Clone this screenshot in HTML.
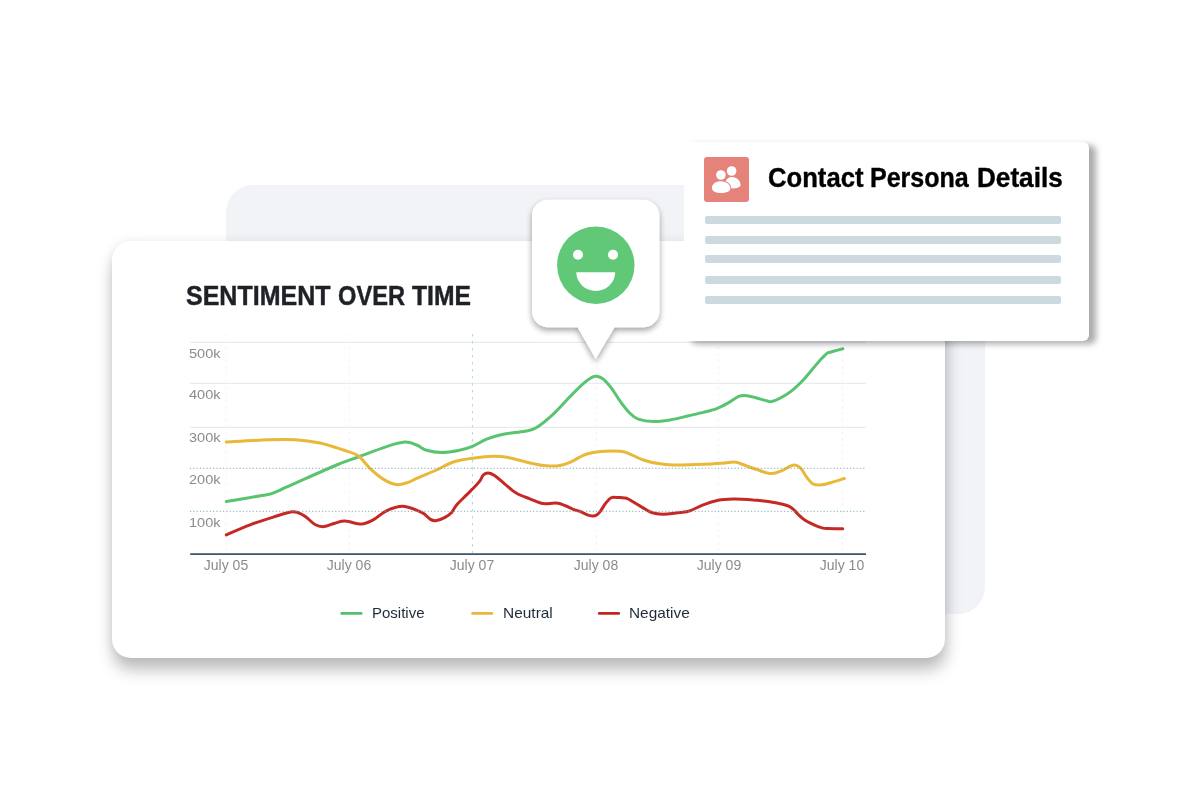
<!DOCTYPE html>
<html><head><meta charset="utf-8">
<style>
html,body{margin:0;padding:0;background:#fff;}
body{width:1201px;height:800px;position:relative;overflow:hidden;font-family:"Liberation Sans",sans-serif;}
.abs{position:absolute;}
.yl,.xl,.lg,#title,#ctitle{will-change:transform;}
#back{left:226.3px;top:185.3px;width:759.2px;height:428.3px;border-radius:27px;background:#f1f3f6;}
#card{left:112px;top:241px;width:833px;height:417px;border-radius:19px;background:#fff;box-shadow:1px 12px 16px rgba(0,0,0,.255),0 0 12px rgba(0,0,0,.065);}
#title{-webkit-text-stroke:.45px #1e2126;left:0px;top:279.6px;font-weight:bold;font-size:27px;line-height:32px;color:#1e2126;white-space:nowrap;transform-origin:0 0;}
.yl{left:188.7px;width:34px;font-size:13.5px;line-height:14px;color:#8b8b8b;white-space:nowrap;transform-origin:0 0;transform:scaleX(1.075);margin-top:.85px}
.xl{width:80px;text-align:center;font-size:14px;line-height:14px;color:#8b8b8b;top:558px;white-space:nowrap;}
.lg{font-size:15px;line-height:16px;color:#1f2b38;top:605px;white-space:nowrap;}
#contact{left:684px;top:142px;width:405px;height:199.3px;border-radius:6px;background:#fff;box-shadow:7px 3px 6px rgba(0,0,0,.33);}
#ctitle{-webkit-text-stroke:.4px #000;left:0px;top:160.9px;font-weight:bold;font-size:27px;line-height:34px;color:#000;white-space:nowrap;transform-origin:0 0;}
.bar{left:704.9px;width:356.5px;height:8px;border-radius:2px;background:#ccdae0;}
#title span{position:absolute;top:0;transform-origin:0 0;display:block}
#w1{left:186.4px;transform:scaleX(.926)}#w2{left:338.25px;transform:scaleX(.876)}#w3{left:411.9px;transform:scaleX(.914)}
#ctitle span{position:absolute;top:0;transform-origin:0 0;display:block}
#c1{left:768.25px;transform:scaleX(.95)}#c2{left:870.4px;transform:scaleX(.927)}#c3{left:977.15px;transform:scaleX(.9677)}
#icon{left:704px;top:157px;width:45px;height:45px;border-radius:3px;background:#e5827a;}
</style></head><body>
<div id="back" class="abs"></div>
<div id="card" class="abs"></div>
<div id="title" class="abs"><span id="w1">SENTIMENT</span><span id="w2">OVER</span><span id="w3">TIME</span></div>

<svg class="abs" style="left:0;top:0" width="1201" height="800" viewBox="0 0 1201 800">
 <g stroke="#dfe9ec" stroke-width="1" fill="none">
  <path d="M190 342.3H866M190 383.3H866M190 427.3H866"/>
 </g>
 <g stroke="#eff2f5" stroke-width="1" stroke-dasharray="2.5 4" fill="none">
  <path d="M226.2 334V553M349.3 334V553M596.4 334V553M718.6 334V553M842.5 334V553"/>
 </g>
 <path d="M472.4 334V553" stroke="#b5d3d6" stroke-width="1" stroke-dasharray="2.5 4.5" fill="none"/>
 <path d="M190.2 554.1H866" stroke="#3d5566" stroke-width="1.7" fill="none"/>
 <g fill="none" stroke-width="3" stroke-linecap="round" stroke-linejoin="round">
  <path stroke="#58c470" d="M226.3 501.6C232.2 500.6 254.4 496.8 262.0 495.5C269.6 494.2 268.4 494.6 271.6 493.6C274.8 492.6 277.1 491.3 281.0 489.6C284.9 487.9 285.7 487.4 295.0 483.3C304.3 479.2 326.1 469.4 336.6 465.0C347.1 460.6 349.9 460.1 358.2 457.0C366.5 453.9 378.7 449.1 386.5 446.6C394.3 444.1 399.8 442.4 404.8 442.1C409.8 441.8 413.1 443.6 416.7 445.0C420.3 446.4 422.5 449.1 426.6 450.3C430.8 451.6 436.3 452.5 441.6 452.5C446.9 452.5 453.2 451.5 458.3 450.5C463.4 449.5 467.7 448.2 472.4 446.3C477.1 444.4 481.5 441.2 486.6 439.2C491.7 437.2 496.8 435.5 503.2 434.2C509.6 432.9 519.3 432.3 524.9 431.2C530.5 430.1 531.9 430.4 536.6 427.5C541.3 424.6 547.7 419.2 553.3 414.1C558.9 409.0 565.0 401.7 570.0 396.6C575.0 391.5 579.7 386.8 583.3 383.6C586.9 380.4 589.4 378.7 591.6 377.5C593.8 376.3 594.7 376.0 596.6 376.3C598.5 376.6 600.8 377.1 603.3 379.1C605.8 381.1 608.8 384.7 611.6 388.3C614.4 391.9 616.9 396.6 619.9 400.8C622.9 405.0 626.8 410.2 629.9 413.3C633.0 416.4 634.3 417.7 638.2 419.1C642.1 420.5 647.9 421.5 653.2 421.6C658.5 421.7 664.4 420.8 669.9 419.9C675.4 419.0 681.0 417.6 686.5 416.3C692.0 415.1 698.2 413.7 703.2 412.4C708.2 411.1 712.5 410.2 716.7 408.6C720.9 407.0 724.7 404.9 728.3 402.9C731.9 400.9 735.5 397.8 738.3 396.6C741.1 395.4 742.2 395.4 745.0 395.5C747.8 395.6 751.4 396.6 755.0 397.5C758.6 398.4 763.8 400.1 766.6 400.8C769.4 401.5 769.4 402.0 771.6 401.6C773.8 401.2 776.6 400.1 779.9 398.3C783.2 396.5 787.7 393.9 791.6 390.8C795.5 387.8 799.6 383.8 803.2 380.0C806.8 376.2 810.4 371.6 813.2 368.3C816.0 365.0 818.1 362.4 820.0 360.3C821.9 358.2 823.5 356.7 824.6 355.6C825.7 354.5 826.2 354.1 826.8 353.6C827.4 353.1 827.7 352.9 828.2 352.7C828.7 352.5 828.5 352.6 829.8 352.3C831.1 352.0 833.8 351.2 836.0 350.6C838.2 350.0 841.7 349.1 842.8 348.8"/>
  <path stroke="#e8b839" d="M226.3 442.1C233.3 441.7 256.9 440.1 268.3 439.7C279.8 439.3 286.4 439.1 295.0 439.7C303.6 440.2 312.0 441.3 320.0 443.0C328.0 444.7 336.8 447.9 343.2 450.0C349.6 452.1 353.8 452.8 358.2 455.8C362.6 458.9 365.7 464.4 369.9 468.3C374.1 472.2 378.8 476.4 383.2 479.1C387.6 481.8 392.3 484.1 396.5 484.6C400.7 485.2 404.8 483.4 408.2 482.4C411.6 481.3 412.0 480.4 416.7 478.3C421.4 476.2 430.5 472.7 436.6 470.0C442.7 467.3 447.3 463.9 453.3 462.0C459.3 460.1 465.7 459.2 472.4 458.3C479.1 457.4 487.3 456.4 493.3 456.3C499.3 456.2 502.1 456.4 508.2 457.5C514.3 458.6 523.5 461.6 529.9 463.0C536.3 464.4 541.5 465.4 546.5 465.8C551.5 466.2 555.7 466.2 559.9 465.5C564.1 464.8 567.6 463.3 571.5 461.6C575.4 459.9 579.6 456.8 583.2 455.3C586.8 453.8 589.6 453.2 593.2 452.5C596.8 451.8 600.5 451.5 605.0 451.3C609.5 451.1 616.1 451.0 620.0 451.3C623.9 451.6 624.4 451.9 628.3 453.3C632.2 454.8 638.3 458.3 643.3 460.0C648.3 461.7 653.3 462.8 658.3 463.6C663.3 464.4 666.9 464.8 673.3 465.0C679.7 465.2 688.6 464.9 696.6 464.6C704.6 464.3 715.3 463.8 721.5 463.3C727.7 462.9 730.5 461.8 733.8 461.9C737.1 462.0 737.6 462.8 741.3 464.0C745.0 465.2 751.1 467.7 756.1 469.3C761.1 470.9 766.8 473.4 771.0 473.6C775.2 473.9 778.4 472.1 781.6 470.8C784.8 469.6 787.8 467.1 790.1 466.1C792.4 465.2 793.6 464.7 795.4 465.1C797.2 465.5 798.8 466.2 800.8 468.3C802.8 470.4 805.0 475.2 807.1 477.8C809.2 480.4 811.0 483.0 813.5 484.2C816.0 485.4 818.8 485.1 822.0 484.8C825.2 484.5 828.9 483.2 832.6 482.1C836.3 481.1 842.3 479.1 844.3 478.5"/>
  <path stroke="#c52925" d="M226.3 534.9C230.2 533.2 242.2 527.9 250.0 524.9C257.8 521.9 266.1 519.3 273.3 517.1C280.5 514.9 287.9 511.9 293.0 511.7C298.1 511.4 300.3 513.5 304.0 515.6C307.7 517.7 311.7 522.7 315.0 524.5C318.3 526.3 320.7 526.8 324.0 526.6C327.3 526.4 331.4 524.1 334.9 523.2C338.4 522.3 340.5 521.0 344.9 521.1C349.3 521.2 356.8 524.3 361.5 524.1C366.2 523.9 369.0 522.1 373.2 519.9C377.4 517.7 381.5 513.1 386.5 510.8C391.5 508.5 397.3 506.0 403.2 506.3C409.1 506.6 417.1 510.3 421.6 512.4C426.1 514.5 427.6 517.7 430.0 519.1C432.4 520.5 433.3 521.0 435.8 520.7C438.3 520.4 442.4 518.8 445.0 517.4C447.6 516.0 449.7 514.5 451.6 512.4C453.5 510.3 454.1 507.8 456.6 504.9C459.1 502.0 464.0 497.5 466.6 494.9C469.2 492.3 470.2 491.5 472.4 489.1C474.6 486.8 478.1 483.2 479.9 480.8C481.7 478.4 481.9 476.3 483.3 475.0C484.7 473.7 486.4 472.9 488.3 473.0C490.2 473.1 492.1 473.9 494.9 475.8C497.7 477.7 501.3 481.2 504.9 484.1C508.5 487.0 512.4 490.9 516.6 493.3C520.8 495.8 525.5 497.1 529.9 498.8C534.3 500.5 538.5 502.9 543.2 503.6C547.9 504.4 552.9 502.2 558.2 503.3C563.5 504.4 571.3 508.5 574.9 509.9C578.5 511.2 578.0 510.6 580.0 511.4C582.0 512.2 584.6 513.8 586.7 514.6C588.8 515.4 590.8 515.9 592.5 516.0C594.2 516.1 595.5 515.7 596.7 515.0C598.0 514.3 598.6 513.5 600.0 511.7C601.4 509.9 603.5 506.3 605.0 504.2C606.5 502.1 608.1 500.3 609.2 499.2C610.3 498.1 610.8 498.1 611.5 497.8C612.2 497.5 612.1 497.2 613.5 497.2C614.9 497.2 618.0 497.5 620.0 497.6C622.0 497.8 624.2 497.9 625.5 498.1C626.8 498.3 626.8 498.4 627.5 498.7C628.2 499.0 628.2 498.9 630.0 500.0C631.8 501.1 635.5 503.3 638.3 505.0C641.1 506.7 644.5 508.8 646.7 510.0C648.9 511.2 649.6 511.8 651.7 512.5C653.8 513.2 656.6 513.8 659.2 514.0C661.8 514.2 664.0 514.2 667.5 514.0C671.0 513.8 676.3 513.1 680.0 512.6C683.7 512.1 686.0 512.1 689.9 510.8C693.8 509.5 698.5 506.6 703.2 504.9C707.9 503.1 713.2 501.3 718.2 500.3C723.2 499.3 727.4 499.2 733.2 499.1C739.0 499.0 748.7 499.6 753.2 499.9C757.7 500.1 757.0 500.2 760.0 500.6C763.0 501.0 767.5 501.4 771.2 502.0C775.0 502.6 779.5 503.5 782.5 504.2C785.5 504.9 787.3 505.5 789.2 506.4C791.1 507.3 792.2 508.2 793.7 509.6C795.2 511.0 796.3 512.7 798.2 514.5C800.1 516.3 802.4 518.6 805.0 520.3C807.6 522.0 811.2 523.6 814.0 524.9C816.8 526.2 819.8 527.3 822.0 527.9C824.2 528.5 825.3 528.5 827.5 528.6C829.7 528.7 832.5 528.7 835.0 528.7C837.5 528.7 841.4 528.8 842.7 528.8"/>
 </g>
 <g stroke="#74a3ae" stroke-width=".9" stroke-dasharray="1.2 2.1" fill="none">
  <path d="M190 468.3H866M190 511.3H866"/>
 </g>
 <g stroke-width="2.6" stroke-linecap="round">
  <path stroke="#52c16b" d="M341.7 613.4H361.3"/>
  <path stroke="#e8b839" d="M472.5 613.4H491.9"/>
  <path stroke="#c4241f" d="M599.2 613.4H618.8"/>
 </g>
</svg>

<div class="abs yl" style="top:346px">500k</div>
<div class="abs yl" style="top:387px">400k</div>
<div class="abs yl" style="top:430px">300k</div>
<div class="abs yl" style="top:472px">200k</div>
<div class="abs yl" style="top:515px">100k</div>

<div class="abs xl" style="left:186px">July 05</div>
<div class="abs xl" style="left:309px">July 06</div>
<div class="abs xl" style="left:432px">July 07</div>
<div class="abs xl" style="left:556px">July 08</div>
<div class="abs xl" style="left:679px">July 09</div>
<div class="abs xl" style="left:802px">July 10</div>

<div class="abs lg" style="left:372px">Positive</div>
<div class="abs lg" style="left:502.6px;transform-origin:0 0;transform:scaleX(1.03)">Neutral</div>
<div class="abs lg" style="left:629px;transform-origin:0 0;transform:scaleX(1.025)">Negative</div>

<!-- bubble -->
<svg class="abs" style="left:500px;top:170px;overflow:visible" width="200" height="220" viewBox="500 170 200 220">
 <defs><filter id="bs" x="-30%" y="-30%" width="160%" height="160%"><feGaussianBlur in="SourceAlpha" stdDeviation="3"/><feOffset dx="0" dy="3"/><feComponentTransfer><feFuncA type="linear" slope="0.38"/></feComponentTransfer><feMerge><feMergeNode/><feMergeNode in="SourceGraphic"/></feMerge></filter></defs>
 <path filter="url(#bs)" fill="#fff" d="M548 199.8H643.4a16 16 0 0 1 16 16V311.2a16 16 0 0 1 -16 16H614.6L595.7 359L577.6 327.2H548a16 16 0 0 1 -16 -16V215.8a16 16 0 0 1 16 -16Z"/>
 <circle cx="595.8" cy="265.2" r="38.7" fill="#61c877"/>
 <circle cx="578" cy="254.8" r="5" fill="#fff"/>
 <circle cx="613" cy="254.8" r="5" fill="#fff"/>
 <path fill="#fff" d="M576.3 272.2H615.2A19.45 18.7 0 0 1 576.3 272.2Z"/>
</svg>

<div id="contact" class="abs"></div>
<div id="icon" class="abs"></div>
<svg class="abs" style="left:704px;top:157px" width="45" height="45" viewBox="704 157 45 45">
 <g fill="#fff">
  <circle cx="731.6" cy="171" r="4.8"/>
  <path d="M725.4 182.5C726 179 729 177.1 732 177.1C737 177.1 740.6 181 740.6 185C740.6 187.5 736 188.6 731.5 188.4C730.5 185.5 728.5 183.6 725.4 182.5Z"/>
  <circle cx="720.9" cy="175" r="4.8"/>
  <path stroke="#e5827a" stroke-width="2" paint-order="stroke" d="M711.9 188C711.9 184 716 181.3 721 181.3C726 181.3 730.4 184.5 730.4 188.5C730.4 191.5 726 193 721 193C716 193 711.9 191.5 711.9 188Z"/>
 </g>
</svg>
<div id="ctitle" class="abs"><span id="c1">Contact</span><span id="c2">Persona</span><span id="c3">Details</span></div>
<div class="abs bar" style="top:216px"></div>
<div class="abs bar" style="top:236px"></div>
<div class="abs bar" style="top:255px"></div>
<div class="abs bar" style="top:275.9px"></div>
<div class="abs bar" style="top:296.2px"></div>
</body></html>
